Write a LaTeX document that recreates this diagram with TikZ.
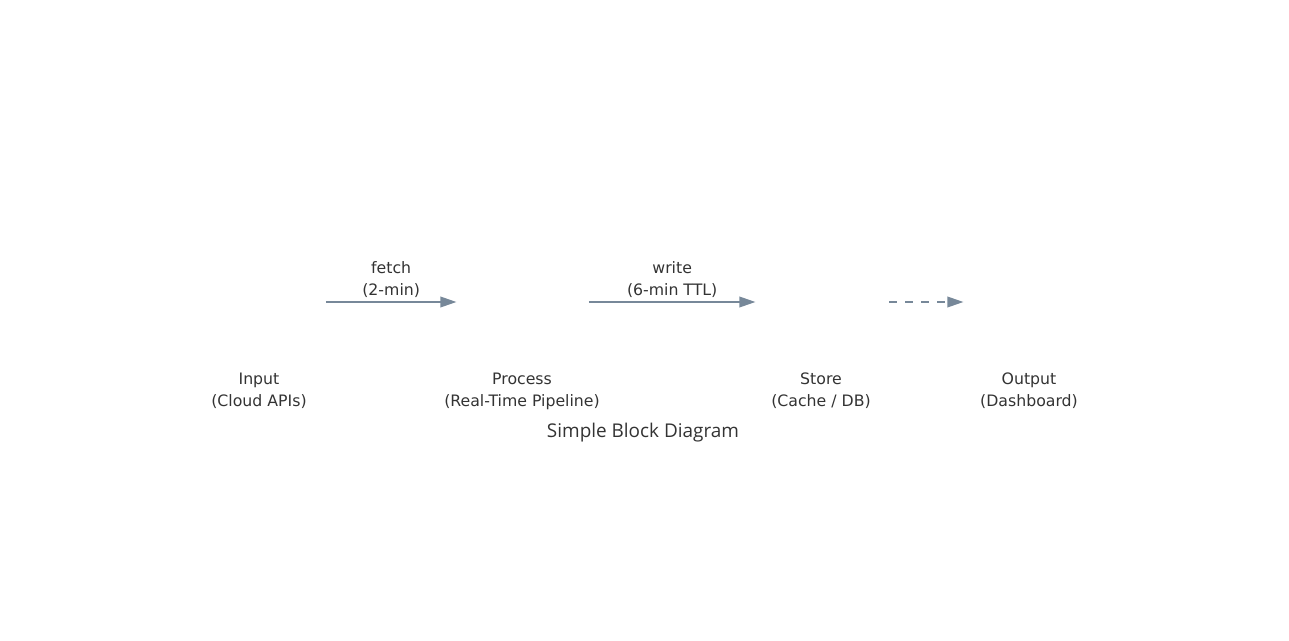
\documentclass[tikz,border=0pt]{standalone}
\usepackage{fontspec}
\setmainfont{DejaVu Sans}
\newfontfamily\titlefont{Open Sans}
\usetikzlibrary{arrows.meta,positioning}
\definecolor{linkgray}{HTML}{778899}
\definecolor{textgray}{HTML}{333333}
\begin{document}
\begin{tikzpicture}[
  x=0.75pt, y=-0.75pt,
  every node/.style={text=textgray, font=\fontsize{11.8}{16.5}\selectfont},
  block/.style={inner sep=0pt, minimum width=98pt, minimum height=0pt},
  caption/.style={align=center, inner sep=0pt},
  link/.style={draw=linkgray, line width=1.1pt,
    -{Triangle[length=12pt, width=8pt, fill=linkgray]}},
  flowlabel/.style={above=3pt, align=center, inner sep=0pt}
  ]

\useasboundingbox (0,0) rectangle (1289,641);

% Blocks
\node[block] (input) at (259,302) {};
\node[block] (process) at (522,302) {};
\node[block] (store) at (821,302) {};
\node[block] (output) at (1029,302) {};

% Block captions
\node[caption] (inputlbl) at (259,391) {Input\\(Cloud APIs)};
\node[caption] (processlbl) at (522,391) {Process\\(Real-Time Pipeline)};
\node[caption] (storelbl) at (821,391) {Store\\(Cache / DB)};
\node[caption] (outputlbl) at (1029,391) {Output\\(Dashboard)};

% Links
\draw[link] ([xshift=1pt]input.east) -- (process.west)
  node[flowlabel, midway] {fetch\\(2-min)};
\draw[link] ([xshift=1pt]process.east) -- (store.west)
  node[flowlabel, midway] {write\\(6-min TTL)};
\draw[link, dash pattern=on 5.75pt off 6.25pt] ([xshift=2pt]store.east) -- (output.west);

% Title
\node[font=\titlefont\fontsize{14.2}{17}\selectfont, text=textgray] (title) at (643,433) {Simple Block Diagram};

\end{tikzpicture}
\end{document}
